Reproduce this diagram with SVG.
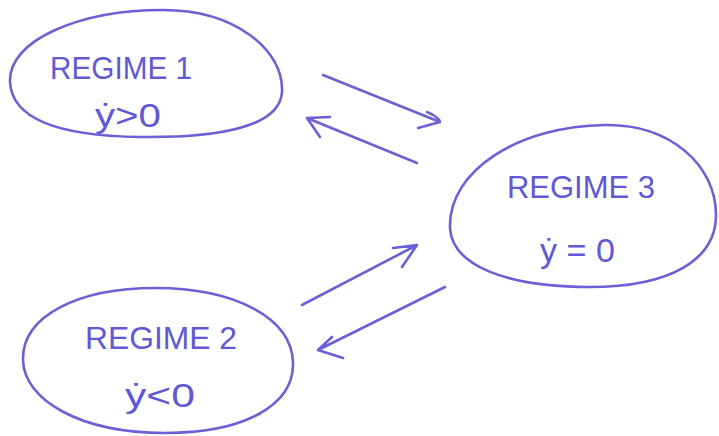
<svg xmlns="http://www.w3.org/2000/svg" width="719" height="436" viewBox="0 0 719 436">
<style>
.shape{fill:none;stroke:#6b60d6;stroke-width:2.6;stroke-linecap:round;stroke-linejoin:round}
.lbl{font-family:"Liberation Sans","DejaVu Sans",sans-serif;fill:#6257d4;font-size:32px}
.eq{font-family:"Liberation Sans","DejaVu Sans",sans-serif;fill:#6257d4;font-size:34px}
</style>
<rect width="719" height="436" fill="#ffffff"/>
<g id="regime1">
<path class="shape" d="M10,82 C8,40 80,10 163,10 C235,10 284,50 282,92 C280,125 225,138 140,137 C60,136 12,120 10,82 Z"/>
<text class="lbl" x="50" y="79" textLength="142" lengthAdjust="spacingAndGlyphs">REGIME 1</text>
<text class="eq" x="95" y="127" textLength="66" lengthAdjust="spacingAndGlyphs">ẏ&gt;0</text>
</g>
<g id="regime3">
<path class="shape" d="M450,228 C448,170 520,126 605,125 C670,124 716,165 716,215 C716,260 670,287 590,287 C505,287 452,265 450,228 Z"/>
<text class="lbl" x="507" y="198" textLength="148" lengthAdjust="spacingAndGlyphs">REGIME 3</text>
<text class="eq" x="540" y="262" textLength="75" lengthAdjust="spacingAndGlyphs">ẏ = 0</text>
</g>
<g id="regime2">
<path class="shape" d="M23,360 C22,315 80,288 155,288 C235,288 292,318 293,363 C294,405 245,433 165,433 C80,433 24,400 23,360 Z"/>
<text class="lbl" x="85" y="349" textLength="152" lengthAdjust="spacingAndGlyphs">REGIME 2</text>
<text class="eq" x="125" y="407" textLength="70" lengthAdjust="spacingAndGlyphs">ẏ&lt;0</text>
</g>
<g id="connectors">
<path class="shape" d="M323,75 L440,122 M427,112 C435,115 440,120 440,122 L418,128"/>
<path class="shape" d="M417,163 L307,118 M330,117 L307,118 L320,137"/>
<path class="shape" d="M302,305 L417,245 M393,248 L417,245 L402,267"/>
<path class="shape" d="M445,287 L318,350 M332,337 L318,350 L343,358"/>
</g>
</svg>
